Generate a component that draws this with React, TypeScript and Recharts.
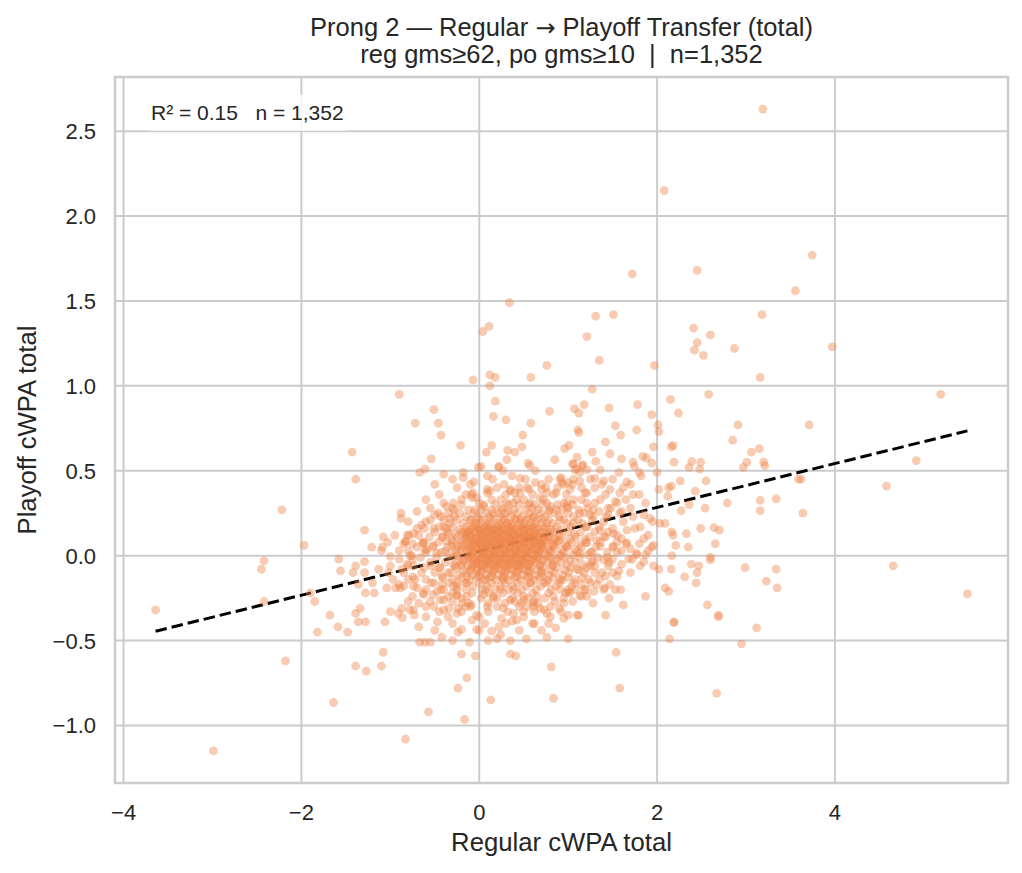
import React from "react";
import { ScatterChart, Scatter, XAxis, YAxis, CartesianGrid, ReferenceLine } from "recharts";

const W = 1022;
const H = 873;
const FONT = "'Liberation Sans', Arial, Helvetica, sans-serif";
const TEXT = "#262626";
const GRID = "#cccccc";
const DOT = "#ee854a";

const xTicks = [-4, -2, 0, 2, 4];
const yTicks = [-1, -0.5, 0, 0.5, 1, 1.5, 2, 2.5];
const xDomain: [number, number] = [-4.0965, 5.9465];
const yDomain: [number, number] = [-1.339, 2.819];

const fitX = [-3.64, 5.49];
const fitY = [-0.445, 0.735];

const titleParts = ["Prong 2 — Regular ", "→", " Playoff Transfer (total)"];
const subtitle = "reg gms≥62, po gms≥10  |  n=1,352";
const xLabel = "Regular cWPA total";
const yLabel = "Playoff cWPA total";
const statsText = "R² = 0.15   n = 1,352";

const outlierPoints: [number, number][] = [
  [3.19, 2.63], [2.08, 2.15], [1.72, 1.66], [2.45, 1.68], [3.745, 1.77], [3.555, 1.56], [0.34, 1.49],
  [1.31, 1.41], [1.51, 1.42], [3.18, 1.42], [0.11, 1.35], [0.04, 1.32], [1.21, 1.29], [2.41, 1.34],
  [2.6, 1.3], [2.45, 1.255], [2.42, 1.21], [2.52, 1.18], [2.87, 1.22], [3.97, 1.23], [1.35, 1.15],
  [1.97, 1.12], [0.76, 1.12], [0.12, 1.065], [0.18, 1.05], [0.58, 1.05], [0.12, 1.0], [3.16, 1.05],
  [-0.07, 1.035], [1.27, 0.98], [-0.9, 0.95], [5.19, 0.95], [2.15, 0.92], [2.58, 0.95], [3.71, 0.77],
  [4.915, 0.56], [3.62, 0.45], [4.58, 0.41], [3.64, 0.25], [4.655, -0.06], [5.49, -0.225],
  [-3.64, -0.32], [-2.99, -1.15], [-2.22, 0.27], [-2.45, -0.08], [-2.42, -0.03], [-2.42, -0.27],
  [-2.18, -0.62], [-1.97, 0.06], [-1.9, -0.22], [-1.85, -0.27], [-1.82, -0.45], [-1.68, -0.35],
  [-1.59, -0.42], [-1.48, -0.45], [-1.64, -0.865], [-0.83, -1.08], [-0.57, -0.92], [-0.165, -0.965],
  [0.13, -0.85], [0.835, -0.84], [1.58, -0.78], [2.67, -0.81], [2.95, -0.52], [3.12, -0.425],
];

const leftPoints: [number, number][] = [
  [-1.58, -0.02], [-1.56, -0.09], [-1.43, 0.61], [-1.39, 0.45], [-1.42, -0.1], [-1.39, -0.06],
  [-1.36, -0.17], [-1.39, -0.34], [-1.34, -0.31], [-1.36, -0.39], [-1.28, -0.39], [-1.39, -0.65],
  [-1.27, -0.68], [-1.1, -0.65], [-1.08, -0.57], [-1.29, 0.15], [-1.29, -0.035], [-1.29, -0.1],
  [-1.21, 0.05], [-1.2, -0.16], [-1.28, -0.22], [-1.18, -0.22], [-1.13, -0.08], [-1.08, 0.11],
  [-1.03, 0.08], [-1.09, 0.05], [-1.0, -0.005], [-1.02, -0.1], [-0.97, -0.14], [-1.04, -0.19],
  [-1.06, -0.39], [-1.0, -0.33], [-0.9, 0.03], [-0.88, 0.25], [-0.88, 0.22], [-0.79, 0.12],
  [-0.83, 0.08], [-0.76, 0.0], [-0.81, -0.05], [-0.89, -0.19], [-0.94, -0.19], [-0.8, -0.14],
  [-0.745, -0.125], [-0.74, -0.18], [-0.8, -0.27], [-0.91, -0.34], [-0.87, -0.31], [-0.865, -0.365],
  [-0.78, -0.32], [-0.73, -0.35], [-0.68, -0.42], [-0.67, -0.51], [-0.61, -0.51], [-0.55, -0.51],
  [-0.47, -0.39], [-0.42, -0.48], [-0.72, 0.78], [-0.51, 0.86], [-0.46, 0.78], [-0.43, 0.71],
  [-0.21, 0.65], [-0.54, 0.57], [-0.67, 0.49], [-0.61, 0.51], [-0.4, 0.48], [-0.18, 0.49],
  [-0.18, 0.46], [-0.06, 0.435], [-0.14, -0.72], [-0.24, -0.78], [-0.2, -0.58], [-0.045, -0.59],
  [-0.11, -0.51], [-0.24, -0.45], [-0.2, -0.435], [-0.08, -0.38], [-0.03, -0.435], [-0.65, 0.18],
  [-0.55, 0.21], [-0.46, 0.25], [-0.43, 0.23], [-0.37, 0.29], [-0.29, 0.31], [-0.28, 0.27],
  [-0.33, 0.22], [-0.51, 0.16], [-0.37, 0.16], [-0.64, 0.075], [-0.61, 0.035], [-0.52, 0.06],
  [-0.48, 0.015], [-0.42, 0.11], [-0.37, 0.085], [-0.385, 0.025], [-0.31, 0.055], [-0.54, -0.06],
  [-0.45, -0.07], [-0.42, -0.12], [-0.35, -0.1], [-0.27, -0.06], [-0.25, -0.16], [-0.14, -0.16],
  [-0.54, -0.16], [-0.63, -0.22], [-0.52, -0.23], [-0.43, -0.2], [-0.4, -0.26], [-0.34, -0.31],
  [-0.24, -0.31], [-0.25, -0.235], [-0.14, -0.24], [-0.09, -0.29], [-0.25, -0.34], [-0.15, 0.14],
  [-0.09, 0.21], [-0.05, 0.27], [-0.09, 0.36], [-0.03, 0.34], [-0.01, 0.52],
  [-0.74, 0.13], [-0.81, 0.12], [-0.625, 0.075], [-0.59, 0.035], [-0.83, 0.085], [-0.78, 0.0],
  [-0.74, -0.06], [-0.87, -0.08], [-0.85, -0.18], [-0.72, -0.14], [-0.7, -0.19], [-0.625, -0.23],
  [-0.68, -0.28], [-0.74, -0.32], [-0.51, -0.16], [-0.475, -0.21], [-0.44, -0.26], [-0.51, -0.3],
  [-0.4, -0.32], [-0.29, -0.18], [-0.25, -0.23], [-0.19, -0.28], [-0.1, -0.3], [-0.03, -0.35],
  [-0.4, 0.17], [-0.345, 0.13], [-0.07, 0.37], [-0.08, 0.34],
];

const upperPoints: [number, number][] = [
  [0.18, 0.91], [1.18, 0.89], [1.07, 0.865], [1.12, 0.84], [0.79, 0.85], [1.46, 0.87], [1.78, 0.89],
  [1.94, 0.83], [2.24, 0.84], [0.16, 0.82], [0.3, 0.8], [0.58, 0.78], [1.53, 0.765], [1.77, 0.74],
  [2.01, 0.77], [2.02, 0.73], [2.91, 0.77], [1.11, 0.74], [1.12, 0.725], [0.49, 0.71], [1.59, 0.71],
  [2.85, 0.68], [1.42, 0.67], [0.14, 0.65], [0.48, 0.64], [1.01, 0.65], [0.96, 0.63], [0.08, 0.61],
  [0.32, 0.62], [0.4, 0.61], [2.18, 0.65], [2.16, 0.64], [1.96, 0.64], [1.27, 0.61], [1.47, 0.6],
  [3.15, 0.63], [3.06, 0.61], [0.31, 0.565], [0.85, 0.565], [1.1, 0.58], [1.6, 0.57], [1.84, 0.585],
  [1.88, 0.575], [2.19, 0.55], [2.39, 0.555], [2.49, 0.55], [3.01, 0.55], [3.2, 0.55], [3.21, 0.53],
  [2.97, 0.52], [0.55, 0.545], [0.57, 0.53], [0.22, 0.52], [0.02, 0.525], [1.31, 0.555], [1.05, 0.54],
  [1.16, 0.53], [1.73, 0.55], [1.745, 0.525], [1.94, 0.545], [2.36, 0.52], [2.48, 0.51], [3.59, 0.45],
  [2.26, 0.44], [2.55, 0.44], [2.16, 0.41], [2.13, 0.4], [2.43, 0.38], [2.12, 0.35], [2.36, 0.3],
  [2.79, 0.31], [3.16, 0.325], [3.34, 0.335], [3.16, 0.265], [2.54, 0.28], [2.27, 0.265], [2.0, 0.49],
  [2.02, 0.39], [1.92, 0.22], [2.03, 0.19], [2.09, 0.19], [2.165, 0.14], [2.18, 0.12], [2.33, 0.13],
  [2.49, 0.16], [2.64, 0.165], [2.7, 0.15], [2.655, 0.07], [2.35, 0.05], [2.21, 0.06], [2.165, 0.0],
  [2.6, -0.01], [1.96, 0.06], [1.87, 0.005],
  [0.37, 0.47], [0.46, 0.455], [0.63, 0.5], [0.92, 0.46], [1.075, 0.505], [1.13, 0.49], [1.3, 0.455],
  [1.36, 0.505], [1.4, 0.44], [1.57, 0.49], [1.66, 0.435], [1.8, 0.49], [1.82, 0.47], [1.73, 0.36],
  [1.87, 0.31], [1.58, 0.37], [1.47, 0.39], [1.53, 0.32], [1.45, 0.28], [1.36, 0.33], [1.21, 0.37],
  [1.02, 0.39], [0.93, 0.43], [0.865, 0.37], [0.76, 0.37], [0.7, 0.39], [0.63, 0.43], [0.54, 0.4],
  [0.46, 0.37], [0.35, 0.39], [0.24, 0.33], [0.09, 0.37], [0.05, 0.29], [0.16, 0.25], [0.31, 0.31],
  [0.57, 0.31], [0.8, 0.29], [0.985, 0.31], [1.13, 0.25], [1.28, 0.23], [1.43, 0.23], [1.58, 0.25],
  [1.73, 0.23], [1.81, 0.17], [1.66, 0.15], [1.51, 0.13], [1.36, 0.15], [1.21, 0.17], [1.06, 0.19],
  [0.91, 0.21], [0.76, 0.19], [0.61, 0.23], [0.46, 0.21], [0.31, 0.19], [0.16, 0.15], [1.51, 0.055],
  [1.66, 0.075], [1.77, 0.015], [1.36, 0.055], [1.21, 0.075], [1.13, 0.015], [0.985, 0.055],
  [0.835, 0.095], [0.685, 0.075], [0.54, 0.115], [0.385, 0.095], [0.24, 0.075], [0.09, 0.055],
  [0.22, 0.525], [0.27, 0.5], [1.06, 0.54], [1.1, 0.51], [1.165, 0.535], [1.21, 0.505], [0.09, 0.47],
  [0.56, 0.39], [0.75, 0.4], [0.91, 0.45], [0.95, 0.42], [1.0, 0.43], [1.06, 0.45], [1.13, 0.44],
  [1.15, 0.4], [1.19, 0.37], [0.09, 0.39], [0.12, 0.38], [0.35, 0.38], [0.4, 0.37], [0.5, 0.33],
  [0.55, 0.3], [0.685, 0.34], [0.76, 0.31], [0.835, 0.36], [0.87, 0.27], [0.985, 0.29], [1.06, 0.33],
  [1.21, 0.31], [1.28, 0.27],
  [1.25, 0.02], [1.32, 0.09], [1.44, -0.01], [1.6, 0.1], [1.7, 0.04], [1.85, 0.1], [1.42, 0.11],
  [1.28, -0.03], [1.55, 0.02], [1.68, -0.02],
];

const lowerPoints: [number, number][] = [
  [1.94, 0.05], [2.6, -0.025], [2.385, -0.05], [2.47, -0.06], [2.45, -0.1], [2.99, -0.07], [3.34, -0.08],
  [3.23, -0.15], [3.35, -0.19], [2.16, -0.08], [2.31, -0.125], [2.44, -0.16], [1.96, -0.06], [2.02, -0.08],
  [2.09, -0.19], [2.13, -0.21], [2.565, -0.29], [2.69, -0.35], [2.69, -0.36], [2.19, -0.39], [2.19, -0.395],
  [2.14, -0.49], [1.87, -0.24], [1.62, -0.29], [1.42, -0.35], [1.54, -0.57], [1.12, -0.35], [1.0, -0.35],
  [1.0, -0.49], [0.81, -0.655], [0.35, -0.58], [0.41, -0.59], [0.2, -0.49], [0.24, -0.465], [0.53, -0.49],
  [0.76, -0.48], [0.86, -0.425], [0.62, -0.4], [0.78, -0.4], [0.95, -0.37], [0.06, -0.4], [0.14, -0.445],
  [0.22, -0.42], [0.25, -0.37], [0.37, -0.385], [0.42, -0.38], [0.5, -0.33], [0.61, -0.3], [0.73, -0.32],
  [0.9, -0.31], [0.95, -0.25], [1.46, -0.25], [1.59, -0.2], [1.53, -0.2], [1.47, -0.17], [1.41, -0.19],
  [1.29, -0.21], [1.13, -0.235], [1.08, -0.2], [1.0, -0.215], [1.18, -0.2], [1.23, -0.14], [1.42, -0.12],
  [1.55, -0.12], [1.57, -0.09], [1.6, -0.05], [1.4, -0.025], [1.81, -0.06], [1.85, -0.035], [1.77, 0.005],
  [1.25, -0.06], [1.1, -0.08], [0.91, -0.14], [0.76, -0.16], [0.57, -0.16], [0.5, -0.26], [0.61, -0.28],
  [0.385, -0.2], [0.27, -0.14], [0.16, -0.24], [0.07, -0.2], [0.07, -0.14],
  [0.05, -0.23], [0.16, -0.25], [0.09, -0.3], [0.24, -0.2], [0.35, -0.26], [0.27, -0.31], [0.385, -0.34],
  [0.5, -0.24], [0.54, -0.3], [0.61, -0.27], [0.685, -0.31], [0.76, -0.34], [0.835, -0.24], [0.91, -0.2],
  [0.95, -0.28], [1.02, -0.22], [1.1, -0.35], [1.21, -0.24], [1.28, -0.28],
];

const coreRows: [number, number[]][] = [
  [0.3, [-0.2, 0.05, 0.18, 0.33, 0.45, 0.62, 0.71, 0.88, 1.05]],
  [0.27, [-0.12, 0.02, 0.14, 0.26, 0.39, 0.52, 0.66, 0.79, 0.93, 1.12]],
  [0.25, [-0.35, -0.22, -0.06, 0.08, 0.21, 0.3, 0.43, 0.57, 0.69, 0.84, 1.0, 1.18]],
  [0.23, [-0.28, -0.15, -0.02, 0.11, 0.24, 0.36, 0.48, 0.61, 0.74, 0.9, 1.06]],
  [0.21, [-0.4, -0.25, -0.1, 0.03, 0.16, 0.28, 0.41, 0.53, 0.65, 0.78, 0.95, 1.11, 1.27]],
  [0.19, [-0.33, -0.18, -0.05, 0.07, 0.2, 0.32, 0.45, 0.58, 0.7, 0.83, 0.99, 1.16]],
  [0.17, [-0.45, -0.3, -0.14, -0.01, 0.12, 0.25, 0.37, 0.49, 0.6, 0.73, 0.87, 1.03, 1.2, 1.35]],
  [0.155, [-0.22, -0.08, 0.05, 0.17, 0.3, 0.42, 0.55, 0.67, 0.8, 0.92]],
  [0.14, [-0.5, -0.36, -0.2, -0.04, 0.09, 0.22, 0.34, 0.46, 0.58, 0.71, 0.85, 1.0, 1.14, 1.3, 1.45]],
  [0.125, [-0.27, -0.12, 0.01, 0.14, 0.27, 0.39, 0.51, 0.63, 0.76, 0.9, 1.07]],
  [0.11, [-0.56, -0.41, -0.25, -0.09, 0.04, 0.16, 0.29, 0.41, 0.53, 0.65, 0.78, 0.93, 1.09, 1.24, 1.4]],
  [0.095, [-0.31, -0.16, -0.02, 0.11, 0.23, 0.35, 0.47, 0.6, 0.73, 0.86, 1.02, 1.19]],
  [0.08, [-0.62, -0.46, -0.3, -0.13, 0.0, 0.13, 0.25, 0.37, 0.5, 0.62, 0.75, 0.88, 1.04, 1.2, 1.36, 1.55]],
  [0.065, [-0.21, -0.06, 0.07, 0.19, 0.31, 0.44, 0.56, 0.69, 0.82, 0.97, 1.13]],
  [0.05, [-0.7, -0.52, -0.36, -0.19, -0.04, 0.09, 0.21, 0.34, 0.46, 0.58, 0.71, 0.84, 0.99, 1.15, 1.31, 1.5]],
  [0.035, [-0.27, -0.11, 0.03, 0.15, 0.27, 0.4, 0.52, 0.65, 0.78, 0.93, 1.08]],
  [0.02, [-0.6, -0.43, -0.25, -0.08, 0.06, 0.18, 0.3, 0.42, 0.55, 0.67, 0.8, 0.95, 1.1, 1.27, 1.44]],
  [0.005, [-0.34, -0.16, -0.01, 0.12, 0.24, 0.36, 0.49, 0.61, 0.74, 0.89, 1.05, 1.22]],
  [-0.01, [-0.66, -0.48, -0.3, -0.12, 0.03, 0.16, 0.28, 0.4, 0.53, 0.66, 0.8, 0.96, 1.13, 1.33]],
  [-0.025, [-0.22, -0.06, 0.09, 0.22, 0.34, 0.47, 0.6, 0.72, 0.87, 1.02]],
  [-0.04, [-0.55, -0.38, -0.2, -0.03, 0.11, 0.24, 0.37, 0.5, 0.63, 0.77, 0.92, 1.08, 1.26, 1.46]],
  [-0.055, [-0.29, -0.13, 0.02, 0.15, 0.28, 0.41, 0.54, 0.68, 0.83, 0.99, 1.17]],
  [-0.07, [-0.62, -0.44, -0.26, -0.09, 0.06, 0.19, 0.32, 0.45, 0.58, 0.72, 0.87, 1.03, 1.21]],
  [-0.085, [-0.18, -0.02, 0.12, 0.25, 0.38, 0.51, 0.65, 0.8, 0.96, 1.12]],
  [-0.1, [-0.5, -0.32, -0.14, 0.01, 0.15, 0.28, 0.42, 0.56, 0.7, 0.85, 1.01, 1.18, 1.38]],
  [-0.115, [-0.23, -0.07, 0.08, 0.21, 0.35, 0.49, 0.63, 0.78, 0.94]],
  [-0.13, [-0.41, -0.2, -0.03, 0.12, 0.26, 0.4, 0.54, 0.68, 0.83, 1.0, 1.16]],
  [-0.145, [-0.11, 0.05, 0.19, 0.33, 0.47, 0.62, 0.77, 0.93]],
  [-0.16, [-0.34, -0.16, 0.0, 0.14, 0.29, 0.43, 0.58, 0.73, 0.9, 1.07, 1.25]],
  [-0.18, [-0.25, -0.07, 0.09, 0.24, 0.38, 0.53, 0.69, 0.86, 1.04]],
  [-0.2, [-0.4, -0.15, 0.03, 0.18, 0.33, 0.48, 0.64, 0.81, 1.0]],
  [-0.22, [-0.3, -0.08, 0.11, 0.27, 0.43, 0.6, 0.78, 0.97]],
  [-0.25, [-0.2, 0.02, 0.2, 0.37, 0.55, 0.74]],
  [-0.28, [-0.12, 0.1, 0.29, 0.47, 0.66]],
  [0.15, [0.0, 0.1, 0.2, 0.35, 0.5]],
  [0.12, [-0.15, 0.06, 0.19, 0.31, 0.44, 0.58]],
  [0.1, [-0.05, 0.08, 0.2, 0.33, 0.45, 0.57, 0.7]],
  [0.07, [-0.1, 0.02, 0.14, 0.26, 0.38, 0.5, 0.63]],
  [0.04, [-0.15, -0.02, 0.1, 0.22, 0.35, 0.47, 0.6, 0.72]],
  [0.01, [-0.08, 0.05, 0.17, 0.29, 0.41, 0.53, 0.66]],
  [-0.02, [-0.12, 0.0, 0.12, 0.25, 0.37, 0.49, 0.61]],
  [-0.05, [-0.05, 0.07, 0.2, 0.32, 0.44, 0.57]],
];

const denseRows: [number, number[]][] = [
  [0.22, [0.0, 0.13, 0.27, 0.4, 0.55, 0.7]],
  [0.185, [-0.03, 0.1, 0.23, 0.36, 0.5, 0.63]],
  [0.16, [-0.1, 0.03, 0.15, 0.27, 0.4, 0.52, 0.64, 0.76]],
  [0.135, [-0.18, -0.06, 0.07, 0.2, 0.32, 0.44, 0.56, 0.68, 0.8]],
  [0.115, [-0.1, 0.02, 0.13, 0.25, 0.37, 0.49, 0.61, 0.73]],
  [0.09, [-0.2, -0.08, 0.04, 0.16, 0.28, 0.4, 0.52, 0.64, 0.77, 0.9]],
  [0.06, [-0.25, -0.13, 0.0, 0.11, 0.23, 0.35, 0.47, 0.59, 0.71, 0.84]],
  [0.03, [-0.2, -0.07, 0.06, 0.18, 0.3, 0.43, 0.55, 0.68, 0.81]],
  [0.0, [-0.25, -0.11, 0.02, 0.14, 0.26, 0.39, 0.51, 0.64, 0.77, 0.92]],
  [-0.03, [-0.17, -0.04, 0.08, 0.2, 0.32, 0.45, 0.58, 0.7, 0.83]],
  [-0.06, [-0.2, -0.08, 0.04, 0.17, 0.3, 0.42, 0.55, 0.68, 0.82]],
  [-0.09, [-0.1, 0.03, 0.16, 0.29, 0.43, 0.56, 0.7]],
  [-0.12, [-0.14, 0.0, 0.14, 0.28, 0.42, 0.56, 0.71]],
  [0.175, [-0.05, 0.08, 0.21, 0.33, 0.46, 0.58]],
  [0.145, [-0.12, 0.0, 0.13, 0.25, 0.38, 0.5, 0.62]],
  [0.105, [-0.15, -0.03, 0.1, 0.22, 0.34, 0.46, 0.58, 0.68]],
  [0.075, [-0.05, 0.07, 0.19, 0.31, 0.43, 0.55, 0.67]],
  [0.045, [-0.1, 0.03, 0.15, 0.27, 0.39, 0.51, 0.63]],
  [0.015, [-0.02, 0.1, 0.22, 0.34, 0.46, 0.58]],
  [-0.015, [-0.08, 0.05, 0.17, 0.29, 0.41, 0.53]],
  [-0.045, [0.0, 0.12, 0.24, 0.36, 0.48]],
  [-0.075, [-0.04, 0.09, 0.22, 0.35, 0.48]],
];

const ringRows: [number, number[]][] = [
  [0.45, [-0.3, 0.15, 0.52, 0.78, 1.25, 1.5]],
  [0.42, [-0.5, -0.1, 0.28, 0.7, 1.05, 1.38, 1.7]],
  [0.4, [-0.25, 0.2, 0.45, 0.88, 1.3, 1.62]],
  [0.36, [-0.45, -0.15, 0.3, 0.6, 0.98, 1.42, 1.8]],
  [0.33, [-0.6, -0.2, 0.14, 0.42, 0.72, 1.15, 1.65]],
  [0.31, [-0.4, 0.0, 0.38, 0.95, 1.3, 1.55]],
  [0.28, [-0.55, -0.3, 0.25, 0.6, 1.0, 1.22, 1.48, 1.7]],
  [0.26, [-0.7, 0.33, 0.78, 1.35, 1.6]],
  [0.24, [-0.5, 1.25, 1.45, 1.85]],
  [0.2, [-0.8, -0.6, 1.4, 1.62, 1.95]],
  [0.16, [-0.7, -0.62, 1.5, 1.75]],
  [0.12, [-0.95, -0.68, 1.55, 1.9]],
  [0.07, [-0.85, -0.75, 1.65, 1.8]],
  [0.03, [-1.1, -0.8, 1.6, 1.9]],
  [-0.02, [-0.9, -0.75, 1.5, 1.72]],
  [-0.06, [-1.0, -0.8, 1.3, 1.45]],
  [-0.1, [-0.85, -0.65, 1.3, 1.5, 1.7]],
  [-0.14, [-0.6, -0.3, 1.08, 1.35]],
  [-0.17, [-0.9, -0.42, 1.15, 1.32]],
  [-0.2, [-0.6, -0.25, 1.2, 1.4]],
  [-0.24, [-0.75, -0.35, 0.65, 1.15]],
  [-0.27, [-0.55, -0.3, 0.4, 0.85, 1.05]],
  [-0.3, [-0.6, -0.15, 0.2, 0.45, 0.8]],
  [-0.33, [-0.45, -0.2, 0.1, 0.32, 0.62, 0.92]],
  [-0.36, [-0.6, -0.35, 0.0, 0.5, 0.8]],
  [-0.4, [-0.3, 0.3, 0.6]],
  [-0.44, [-0.5, 0.0, 0.45, 0.7]],
  [-0.5, [-0.3, 0.1, 0.35]],
];

const rowsToPoints = (rows: [number, number[]][]) =>
  rows.flatMap(([y, xs]) => xs.map((x) => [x, y] as [number, number]));

const points = [
  ...outlierPoints,
  ...leftPoints,
  ...upperPoints,
  ...lowerPoints,
  ...rowsToPoints(ringRows),
  ...rowsToPoints(coreRows),
  ...rowsToPoints(denseRows),
].map(([x, y]) => ({ x, y }));

const fitSegment = [
  { x: fitX[0], y: fitY[0] },
  { x: fitX[1], y: fitY[1] },
];

const fmt = (v: number, d: number) => (v < 0 ? "\u2212" : "") + Math.abs(v).toFixed(d);

const XTick = (props: any) => (
  <text x={props.x} y={820} textAnchor="middle" fontSize={22} fill={TEXT} fontFamily={FONT}>
    {fmt(props.payload.value, 0)}
  </text>
);

const YTick = (props: any) => (
  <text x={96} y={props.y + 8} textAnchor="end" fontSize={22} fill={TEXT} fontFamily={FONT}>
    {fmt(props.payload.value, 1)}
  </text>
);

const Dot = (props: any) => <circle cx={props.cx} cy={props.cy} r={4.4} fill={DOT} fillOpacity={0.42} />;

export default function App() {
  return (
    <div style={{ position: "relative", width: W, height: H, background: "#fff" }}>
      <style>{"body{margin:0;background:#fff}"}</style>
      <ScatterChart width={W} height={H} margin={{ top: 77, right: 14, bottom: 0, left: 0 }}>
        <CartesianGrid stroke={GRID} strokeWidth={2} />
        <XAxis
          type="number"
          dataKey="x"
          domain={xDomain}
          ticks={xTicks}
          allowDataOverflow
          height={90}
          axisLine={false}
          tickLine={false}
          tick={<XTick />}
          interval={0}
        />
        <YAxis
          type="number"
          dataKey="y"
          domain={yDomain}
          ticks={yTicks}
          allowDataOverflow
          width={115}
          axisLine={false}
          tickLine={false}
          tick={<YTick />}
          interval={0}
        />
        <Scatter data={points} shape={<Dot />} isAnimationActive={false} />
        <ReferenceLine
          segment={fitSegment}
          stroke="#000"
          strokeWidth={3}
          strokeDasharray="11.5 5"
          ifOverflow="visible"
        />
      </ScatterChart>
      <svg width={W} height={H} style={{ position: "absolute", left: 0, top: 0, pointerEvents: "none" }}>
        <rect x={115} y={77} width={893} height={706} fill="none" stroke={GRID} strokeWidth={2.5} />
        <rect x={144.7} y={94.7} width={207} height={36} rx={6} fill="#fff" fillOpacity={0.8} />
        <text x={151} y={120} fontSize={21} fill={TEXT} fontFamily={FONT} style={{ whiteSpace: "pre" }}>
          {statsText}
        </text>
        <text x={561.5} y={35.7} textAnchor="middle" fontSize={25.5} fill={TEXT} fontFamily={FONT} style={{ whiteSpace: "pre" }}>
          {titleParts[0]}
          <tspan fontFamily="'DejaVu Sans', sans-serif" fontSize={24}>{titleParts[1]}</tspan>
          {titleParts[2]}
        </text>
        <text x={561.5} y={63.3} textAnchor="middle" fontSize={25.5} fill={TEXT} fontFamily={FONT} style={{ whiteSpace: "pre" }}>
          {subtitle}
        </text>
        <text x={561.5} y={851} textAnchor="middle" fontSize={25.7} fill={TEXT} fontFamily={FONT}>
          {xLabel}
        </text>
        <text transform="translate(36, 430) rotate(-90)" textAnchor="middle" fontSize={25.7} fill={TEXT} fontFamily={FONT}>
          {yLabel}
        </text>
      </svg>
    </div>
  );
}
